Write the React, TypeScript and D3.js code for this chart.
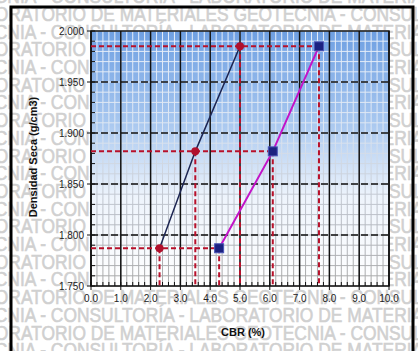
import React from "react";
import * as d3 from "d3";

const W = 418;
const H = 351;

// Data
const seriesA_cbr = [2.3, 3.5, 5.0];
const seriesA_dens = [1.787, 1.882, 1.985];
const seriesB_cbr = [4.3, 6.1, 7.65];
const seriesB_dens = [1.787, 1.882, 1.985];
const xTicks = [0, 1, 2, 3, 4, 5, 6, 7, 8, 9, 10];
const yTicks = [1.75, 1.8, 1.85, 1.9, 1.95, 2.0];
const xLabel = "CBR  (%)";
const yLabel = "Densidad Seca (g/cm3)";
const wmRowA = "ORATORIO DE MATERIALES  GEOTECNIA - CONSULTORÍA";
const wmRowB = "CNIA - CONSULTORÍA - LABORATORIO DE MATERIALES";

const x = d3.scaleLinear().domain([0, 10]).range([91, 389]);
const y = d3.scaleLinear().domain([1.75, 2.0]).range([286, 31]);

export default function App() {
  const x0 = x(0), x1 = x(10), y0 = y(1.75), y1 = y(2.0);
  const minorX = d3.range(0, 10.001, 0.2).map((v) => +v.toFixed(2));
  const minorY = d3.range(1.75, 2.0001, 0.01).map((v) => +v.toFixed(3));
  const lineGen = d3
    .line<[number, number]>()
    .x((d) => x(d[0]))
    .y((d) => y(d[1]));
  const ptsA: [number, number][] = seriesA_cbr.map((c, i) => [c, seriesA_dens[i]]);
  const ptsB: [number, number][] = seriesB_cbr.map((c, i) => [c, seriesB_dens[i]]);

  const rows: { t: string; y: number }[] = [];
  for (let k = -1; k < 11; k++) {
    rows.push({ t: wmRowA, y: 14 + 35.4 * k + 7 });
    rows.push({ t: wmRowB, y: 31.7 + 35.4 * k + 7 });
  }

  const refColor = "#b8102a";
  const levels = seriesA_dens.map((d, i) => ({
    d,
    xmax: Math.max(seriesA_cbr[i], seriesB_cbr[i]),
  }));

  return (
    <svg width={W} height={H} style={{ display: "block", position: "absolute", left: 0, top: 0 }}>
      <defs>
        <linearGradient id="bg" x1="0" y1="0" x2="0" y2="1">
          <stop offset="0%" stopColor="#6e9fe2" />
          <stop offset="35%" stopColor="#a6c6ef" />
          <stop offset="65%" stopColor="#eef4fc" />
          <stop offset="100%" stopColor="#ffffff" />
        </linearGradient>
        <linearGradient id="gridg" gradientUnits="userSpaceOnUse" x1="0" y1={y1} x2="0" y2={y0}>
          <stop offset="0%" stopColor="#e6eefa" />
          <stop offset="40%" stopColor="#dde6f2" />
          <stop offset="75%" stopColor="#b8bcc4" />
          <stop offset="100%" stopColor="#a8a8a8" />
        </linearGradient>
      </defs>
      <rect x={0} y={0} width={W} height={H} fill="#ffffff" />
      <g
        fontFamily="Liberation Sans, Arial, sans-serif"
        fontSize={20}
        fill="#d0d0d0"
        stroke="#d0d0d0"
        strokeWidth={0.6}
        transform="scale(0.87,1)"
      >
        {rows.map((r, i) => (
          <text key={i} x={-6} y={r.y}>
            {r.t}
          </text>
        ))}
      </g>
      <rect x={11} y={7} width={402} height={360} fill="none" stroke="#000" strokeWidth={3} />

      <rect x={x0} y={y1} width={x1 - x0} height={y0 - y1} fill="url(#bg)" />
      {minorX.map((v, i) => (
        <line key={"mx" + i} x1={x(v)} x2={x(v)} y1={y1} y2={y0} stroke="url(#gridg)" strokeWidth={1} />
      ))}
      {minorY.map((v, i) => (
        <line key={"my" + i} x1={x0} x2={x1} y1={y(v)} y2={y(v)} stroke="url(#gridg)" strokeWidth={1} />
      ))}
      {xTicks.map((v) => (
        <line key={"gx" + v} x1={x(v)} x2={x(v)} y1={y1} y2={y0} stroke="#111" strokeWidth={1.5} />
      ))}
      {yTicks.slice(1, -1).map((v) => (
        <line
          key={"gy" + v}
          x1={x0}
          x2={x1}
          y1={y(v)}
          y2={y(v)}
          stroke="#111"
          strokeWidth={1.5}
          strokeDasharray="7,3"
        />
      ))}
      {/* minor ticks */}
      {minorY.map((v, i) => (
        <line key={"ty" + i} x1={x0} x2={x0 + 4} y1={y(v)} y2={y(v)} stroke="#111" strokeWidth={1} />
      ))}
      {minorX.map((v, i) => (
        <line key={"tx" + i} x1={x(v)} x2={x(v)} y1={y0} y2={y0 - 4} stroke="#111" strokeWidth={1} />
      ))}
      {yTicks.map((v) => (
        <line key={"tyM" + v} x1={x0 - 4} x2={x0} y1={y(v)} y2={y(v)} stroke="#111" strokeWidth={1} />
      ))}
      {xTicks.map((v) => (
        <line key={"txM" + v} x1={x(v)} x2={x(v)} y1={y0} y2={y0 + 4} stroke="#111" strokeWidth={1} />
      ))}
      <rect x={x0} y={y1} width={x1 - x0} height={y0 - y1} fill="none" stroke="#111" strokeWidth={1.5} />

      {/* reference lines */}
      {levels.map((l, i) => (
        <line
          key={"rh" + i}
          x1={x0}
          x2={x(l.xmax)}
          y1={y(l.d)}
          y2={y(l.d)}
          stroke={refColor}
          strokeWidth={2}
          strokeDasharray="5,3"
        />
      ))}
      {[...ptsA, ...ptsB].map((p, i) => (
        <line
          key={"rv" + i}
          x1={x(p[0])}
          x2={x(p[0])}
          y1={y(p[1])}
          y2={y0}
          stroke={refColor}
          strokeWidth={2}
          strokeDasharray="5,3"
        />
      ))}

      <path d={lineGen(ptsA) || ""} fill="none" stroke="#1c2552" strokeWidth={1.5} />
      <path d={lineGen(ptsB) || ""} fill="none" stroke="#c214c8" strokeWidth={2} />
      {ptsA.map((p, i) => (
        <circle key={"ca" + i} cx={x(p[0])} cy={y(p[1])} r={4} fill="#b0102c" />
      ))}
      {ptsB.map((p, i) => (
        <rect
          key={"sb" + i}
          x={x(p[0]) - 4.5}
          y={y(p[1]) - 4.5}
          width={9}
          height={9}
          fill="#1b2180"
          stroke="#4a55b8"
          strokeWidth={1}
        />
      ))}

      <g fontFamily="Liberation Sans, Arial, sans-serif" fontSize={10} fill="#222">
        {yTicks.map((v) => (
          <text key={"ly" + v} x={x0 - 7} y={y(v) + 3.5} textAnchor="end">
            {d3.format(".3f")(v)}
          </text>
        ))}
        {xTicks.map((v) => (
          <text key={"lx" + v} x={x(v)} y={302} textAnchor="middle">
            {d3.format(".1f")(v)}
          </text>
        ))}
      </g>
      <text
        x={243}
        y={336}
        textAnchor="middle"
        fontFamily="Liberation Sans, Arial, sans-serif"
        fontSize={11}
        fontWeight="bold"
        fill="#111"
      >
        {xLabel}
      </text>
      <text
        transform={`translate(37,157) rotate(-90)`}
        textAnchor="middle"
        fontFamily="Liberation Sans, Arial, sans-serif"
        fontSize={11}
        fontWeight="bold"
        fill="#111"
      >
        {yLabel}
      </text>
    </svg>
  );
}
